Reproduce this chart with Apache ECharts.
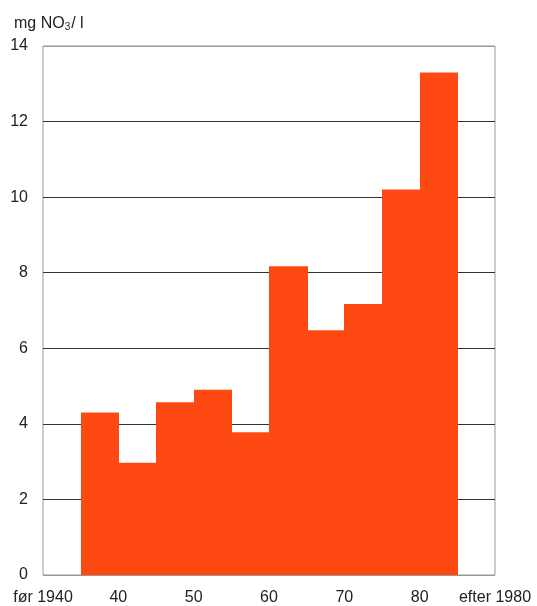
<!DOCTYPE html>
<html>
<head>
<meta charset="utf-8">
<script src="https://cdn.jsdelivr.net/npm/echarts@6/dist/echarts.min.js"></script>
<style>
  html, body { margin: 0; padding: 0; background: #fff; }
  #chart { width: 537px; height: 606px; }
</style>
</head>
<body>
<div id="chart"></div>
<script>
const periodStart = [1935, 1940, 1945, 1950, 1955, 1960, 1965, 1970, 1975, 1980];
const periodEnd = [1940, 1945, 1950, 1955, 1960, 1965, 1970, 1975, 1980, 1985];
const nitrate = [4.3, 2.97, 4.57, 4.9, 3.78, 8.17, 6.48, 7.17, 10.2, 13.3];
const xTickLabels = { 1930: 'før 1940', 1940: '40', 1950: '50', 1960: '60', 1970: '70', 1980: '80', 1990: 'efter 1980' };

const chart = echarts.init(document.getElementById('chart'), null, { renderer: 'canvas' });

const seriesData = periodStart.map(function (s, i) { return [s, periodEnd[i], nitrate[i]]; });

const textColor = '#222';
const fontFamily = 'Liberation Sans, Arial, sans-serif';

chart.setOption({
    animation: false,
    title: {
        text: '{a|mg NO}{s|3}{a|/ l}',
        left: 9,
        top: 10,
        textStyle: {
            rich: {
                a: { fontSize: 16, color: textColor, fontFamily: fontFamily, fontWeight: 'normal' },
                s: { fontSize: 10, color: textColor, fontFamily: fontFamily, fontWeight: 'normal', verticalAlign: 'bottom', padding: [7, 1, 0, 0] }
            }
        }
    },
    grid: {
        left: 43, right: 42, top: 46, bottom: 29,
        show: true, borderColor: '#999', borderWidth: 1, backgroundColor: 'transparent'
    },
    xAxis: {
        type: 'value',
        min: 1930, max: 1990, interval: 10,
        axisLine: { show: false },
        axisTick: { show: false },
        splitLine: { show: false },
        axisLabel: {
            margin: 15,
            fontSize: 16,
            color: textColor,
            fontFamily: fontFamily,
            showMinLabel: true,
            showMaxLabel: true,
            formatter: function (v) { return xTickLabels[v] || ''; }
        }
    },
    yAxis: {
        type: 'value',
        min: 0, max: 14, interval: 2,
        axisLine: { show: false },
        axisTick: { show: false },
        splitLine: {
            show: true,
            lineStyle: { color: ['#999', '#333', '#333', '#333', '#333', '#333', '#333', '#999'], width: 1 }
        },
        axisLabel: {
            margin: 15,
            fontSize: 16,
            color: textColor,
            fontFamily: fontFamily
        }
    },
    series: [{
        type: 'custom',
        data: seriesData,
        encode: { x: [0, 1], y: 2 },
        renderItem: function (params, api) {
            const p0 = api.coord([api.value(0), api.value(2)]);
            const p1 = api.coord([api.value(1), 0]);
            const x0 = Math.round(p0[0]);
            const x1 = Math.round(p1[0]);
            return {
                type: 'rect',
                shape: { x: x0, y: p0[1], width: x1 - x0 + 1, height: p1[1] - p0[1] },
                style: { fill: '#fe4a12' }
            };
        }
    }]
});
</script>
</body>
</html>
